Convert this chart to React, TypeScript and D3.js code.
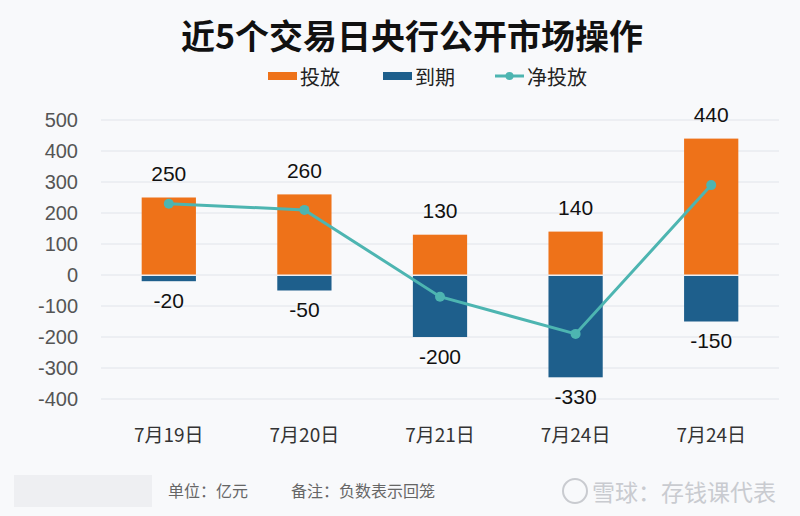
import { useRef, useEffect } from 'react';
import * as d3 from 'd3';

const dates = ['7月19日', '7月20日', '7月21日', '7月24日', '7月24日'];
const injections = [250, 260, 130, 140, 440];
const maturities = [-20, -50, -200, -330, -150];
const netInjections = [230, 210, -70, -190, 290];
const yTicks = [500, 400, 300, 200, 100, 0, -100, -200, -300, -400];

const ORANGE = '#ee7219';
const BLUE = '#1e5f8c';
const TEAL = '#4db5b1';
const NUM_FONT = '"Liberation Sans", Arial, "Noto Sans CJK SC", sans-serif';
const CJK_FONT = '"Noto Sans CJK SC", "Liberation Sans", sans-serif';

function App() {
  const svgRef = useRef(null);

  useEffect(() => {
    const svg = d3.select(svgRef.current);
    svg.selectAll('*').remove();

    const width = 800;
    const height = 516;
    const plot = { left: 101, right: 779, top: 120, bottom: 399 };

    svg.append('rect').attr('width', width).attr('height', height).attr('fill', '#f8f9fb');

    const x = d3
      .scaleBand()
      .domain(dates.map((d, i) => i))
      .range([plot.left, plot.right])
      .paddingInner(0.6)
      .paddingOuter(0.3);

    const y = d3.scaleLinear().domain([-400, 500]).range([plot.bottom, plot.top]);

    // title
    svg
      .append('text')
      .attr('x', 412)
      .attr('y', 34)
      .attr('text-anchor', 'middle')
      .attr('dominant-baseline', 'central')
      .attr('font-family', CJK_FONT)
      .attr('font-weight', 'bold')
      .attr('font-size', 34)
      .attr('fill', '#111')
      .text('近5个交易日央行公开市场操作');

    // legend
    const legend = svg.append('g').attr('font-family', CJK_FONT).attr('font-size', 20).attr('fill', '#222');
    const legendItems = [
      { label: '投放', type: 'bar', color: ORANGE, x: 268 },
      { label: '到期', type: 'bar', color: BLUE, x: 383 },
      { label: '净投放', type: 'line', color: TEAL, x: 495 },
    ];
    legendItems.forEach((item) => {
      if (item.type === 'bar') {
        legend.append('rect').attr('x', item.x).attr('y', 72).attr('width', 29).attr('height', 8).attr('fill', item.color);
      } else {
        legend
          .append('line')
          .attr('x1', item.x)
          .attr('x2', item.x + 29)
          .attr('y1', 76)
          .attr('y2', 76)
          .attr('stroke', item.color)
          .attr('stroke-width', 3);
        legend.append('circle').attr('cx', item.x + 14.5).attr('cy', 76).attr('r', 4).attr('fill', item.color);
      }
      legend
        .append('text')
        .attr('x', item.x + 32)
        .attr('y', 76)
        .attr('dominant-baseline', 'central')
        .text(item.label);
    });

    // grid + y axis labels
    svg
      .append('g')
      .selectAll('line')
      .data(yTicks)
      .enter()
      .append('line')
      .attr('x1', plot.left)
      .attr('x2', plot.right)
      .attr('y1', (d) => y(d))
      .attr('y2', (d) => y(d))
      .attr('stroke', '#e1e4ea')
      .attr('stroke-width', 1);

    svg
      .append('g')
      .selectAll('text')
      .data(yTicks)
      .enter()
      .append('text')
      .attr('x', 78)
      .attr('y', (d) => y(d))
      .attr('text-anchor', 'end')
      .attr('dominant-baseline', 'central')
      .attr('font-family', NUM_FONT)
      .attr('font-size', 20)
      .attr('fill', '#555')
      .text((d) => d);

    // bars
    const bars = svg.append('g');
    bars
      .selectAll('rect.inj')
      .data(injections)
      .enter()
      .append('rect')
      .attr('x', (d, i) => x(i))
      .attr('y', (d) => y(d))
      .attr('width', x.bandwidth())
      .attr('height', (d) => y(0) - y(d) - 0.5)
      .attr('fill', ORANGE);

    bars
      .selectAll('rect.mat')
      .data(maturities)
      .enter()
      .append('rect')
      .attr('x', (d, i) => x(i))
      .attr('y', y(0) + 1)
      .attr('width', x.bandwidth())
      .attr('height', (d) => y(d) - y(0) - 1)
      .attr('fill', BLUE);

    // net line
    const line = d3
      .line()
      .x((d, i) => x(i) + x.bandwidth() / 2)
      .y((d) => y(d));

    svg
      .append('path')
      .datum(netInjections)
      .attr('d', line)
      .attr('fill', 'none')
      .attr('stroke', TEAL)
      .attr('stroke-width', 3);

    svg
      .append('g')
      .selectAll('circle')
      .data(netInjections)
      .enter()
      .append('circle')
      .attr('cx', (d, i) => x(i) + x.bandwidth() / 2)
      .attr('cy', (d) => y(d))
      .attr('r', 5)
      .attr('fill', TEAL);

    // value labels
    const labels = svg.append('g').attr('font-family', NUM_FONT).attr('font-size', 21).attr('fill', '#111').attr('text-anchor', 'middle');
    labels
      .selectAll('text.inj')
      .data(injections)
      .enter()
      .append('text')
      .attr('x', (d, i) => x(i) + x.bandwidth() / 2)
      .attr('y', (d) => y(d) - 24)
      .attr('dominant-baseline', 'central')
      .text((d) => d);

    labels
      .selectAll('text.mat')
      .data(maturities)
      .enter()
      .append('text')
      .attr('x', (d, i) => x(i) + x.bandwidth() / 2)
      .attr('y', (d) => y(d) + 19)
      .attr('dominant-baseline', 'central')
      .text((d) => d);

    // x axis labels
    svg
      .append('g')
      .selectAll('text')
      .data(dates)
      .enter()
      .append('text')
      .attr('x', (d, i) => x(i) + x.bandwidth() / 2)
      .attr('y', 433)
      .attr('text-anchor', 'middle')
      .attr('dominant-baseline', 'central')
      .attr('font-family', CJK_FONT)
      .attr('font-size', 19)
      .attr('fill', '#333')
      .text((d) => d);

    // footer
    svg.append('rect').attr('x', 14).attr('y', 475).attr('width', 138).attr('height', 32).attr('fill', '#eeeff2');
    const footer = svg.append('g').attr('font-family', CJK_FONT).attr('font-size', 16).attr('fill', '#666');
    footer.append('text').attr('x', 168).attr('y', 490).attr('dominant-baseline', 'central').text('单位：亿元');
    footer.append('text').attr('x', 291).attr('y', 490).attr('dominant-baseline', 'central').text('备注：负数表示回笼');

    svg
      .append('circle')
      .attr('cx', 575)
      .attr('cy', 491)
      .attr('r', 12)
      .attr('fill', 'none')
      .attr('stroke', '#c9cbd0')
      .attr('stroke-width', 2);
    svg
      .append('text')
      .attr('x', 592)
      .attr('y', 491)
      .attr('dominant-baseline', 'central')
      .attr('font-family', CJK_FONT)
      .attr('font-size', 23)
      .attr('fill', '#c9cbd0')
      .text('雪球：存钱课代表');

    return () => {
      svg.selectAll('*').remove();
    };
  }, []);

  return (
    <svg
      ref={svgRef}
      width={800}
      height={516}
      style={{ position: 'fixed', left: 0, top: 0, display: 'block' }}
    />
  );
}

export default App;
